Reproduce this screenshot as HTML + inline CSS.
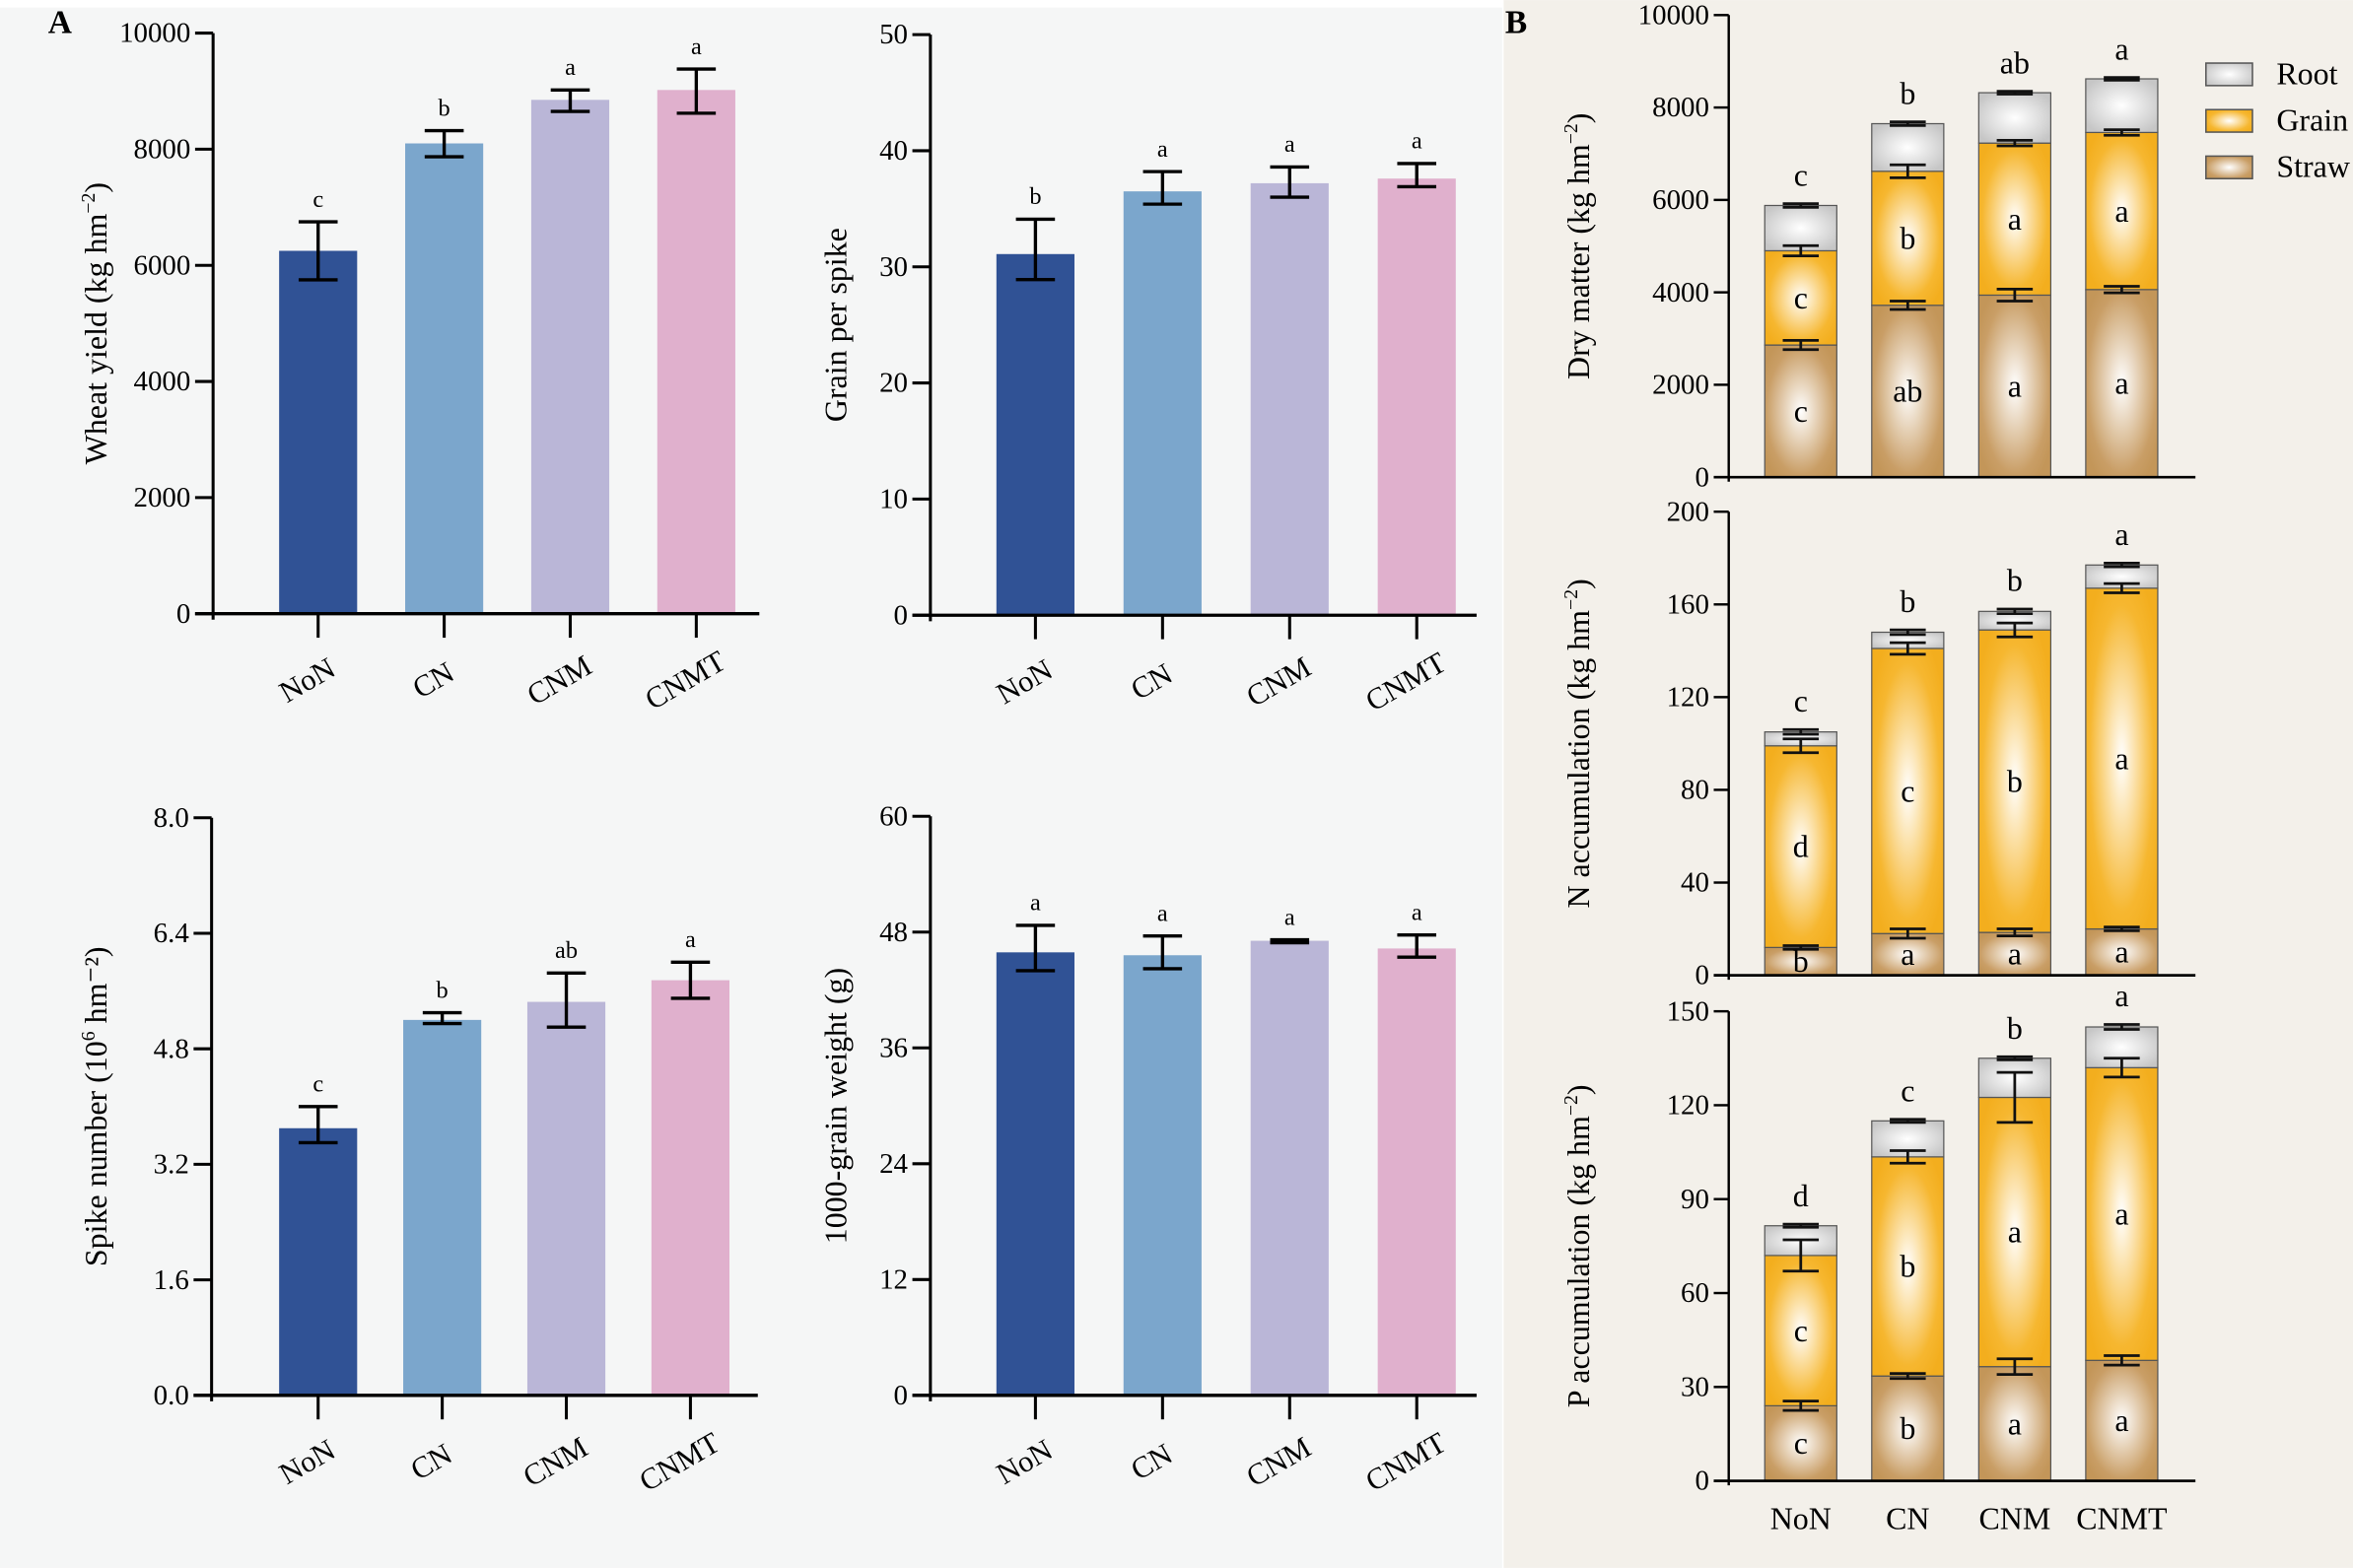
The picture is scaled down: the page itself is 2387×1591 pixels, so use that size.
<!DOCTYPE html>
<html><head><meta charset="utf-8"><style>
html,body{margin:0;padding:0;background:#fff;}
svg{display:block;font-family:"Liberation Serif",serif;}
</style></head><body>
<svg id="fig" width="2387" height="1591" viewBox="0 0 1568 1045" xmlns="http://www.w3.org/2000/svg">
<defs>
<radialGradient id="gRoot" cx="50%" cy="50%" r="60%"><stop offset="0" stop-color="#ffffff"/><stop offset="1" stop-color="#c6c6c6"/></radialGradient>
<radialGradient id="gGrain" cx="50%" cy="50%" r="60%"><stop offset="0" stop-color="#ffffff"/><stop offset="0.75" stop-color="#f6b730"/><stop offset="1" stop-color="#f3ae1e"/></radialGradient>
<radialGradient id="gStraw" cx="50%" cy="50%" r="60%"><stop offset="0" stop-color="#ffffff"/><stop offset="0.8" stop-color="#c99e66"/><stop offset="1" stop-color="#c39659"/></radialGradient>
</defs>
<rect x="0" y="5" width="1001" height="1040" fill="#f5f6f6"/>
<rect x="1002" y="0" width="566" height="1045" fill="#f3f0ea"/>
<text x="32" y="22" font-size="22" font-weight="bold">A</text>
<text x="1003" y="22" font-size="22" font-weight="bold">B</text>
<g id="root"></g>
</svg>
<script>
const categories = ["NoN","CN","CNM","CNMT"];
const barColors = ["#305295","#7ba6cc","#bab6d7","#e0b0cd"];
// Panel A data
const yieldVals = [6250,8100,8850,9020];
const yieldLo = [5750,7870,8650,8620];
const yieldHi = [6750,8320,9020,9380];
const yieldSig = ["c","b","a","a"];
const yieldTicks = [0,2000,4000,6000,8000,10000];
const grainVals = [31.1,36.5,37.2,37.6];
const grainLo = [28.9,35.4,36.0,36.9];
const grainHi = [34.1,38.2,38.6,38.9];
const grainSig = ["b","a","a","a"];
const grainTicks = [0,10,20,30,40,50];
const spikeVals = [3.7,5.2,5.45,5.75];
const spikeLo = [3.5,5.15,5.1,5.5];
const spikeHi = [4.0,5.3,5.85,6.0];
const spikeSig = ["c","b","ab","a"];
const spikeTicks = ["0.0","1.6","3.2","4.8","6.4","8.0"];
const tgwVals = [45.9,45.6,47.1,46.3];
const tgwLo = [44.0,44.2,46.9,45.4];
const tgwHi = [48.7,47.6,47.2,47.7];
const tgwSig = ["a","a","a","a"];
const tgwTicks = [0,12,24,36,48,60];
// Panel B data (straw, grain, root)
const dmStraw = [2860,3720,3940,4060];
const dmGrain = [2040,2900,3290,3400];
const dmRoot = [980,1030,1090,1160];
const dmStrawErr = [100,90,130,70];
const dmGrainErr = [110,140,60,60];
const dmRootErr = [40,40,30,30];
const dmSigStraw = ["c","ab","a","a"];
const dmSigGrain = ["c","b","a","a"];
const dmSigRoot = ["c","b","ab","a"];
const dmTicks = [0,2000,4000,6000,8000,10000];
const nStraw = [12,18,18.5,20];
const nGrain = [87,123,130.5,147];
const nRoot = [6,7,8,10];
const nStrawErr = [0.8,2,1.5,0.8];
const nGrainErr = [3,2.5,3,2];
const nRootErr = [1,1,1,0.8];
const nSigStraw = ["b","a","a","a"];
const nSigGrain = ["d","c","b","a"];
const nSigRoot = ["c","b","b","a"];
const nTicks = [0,40,80,120,160,200];
const pStraw = [24,33.5,36.5,38.5];
const pGrain = [48,70,86,93.5];
const pRoot = [9.5,11.5,12.5,13];
const pStrawErr = [1.5,0.8,2.5,1.5];
const pGrainErr = [5,2,8,3];
const pRootErr = [0.5,0.5,0.5,0.8];
const pSigStraw = ["c","b","a","a"];
const pSigGrain = ["c","b","a","a"];
const pSigRoot = ["d","c","b","a"];
const pTicks = [0,30,60,90,120,150];

const NS="http://www.w3.org/2000/svg";
const root=document.getElementById('root');
function mk(tag,attrs,parent,text){const e=document.createElementNS(NS,tag);for(const k in attrs)e.setAttribute(k,attrs[k]);if(text!==undefined)e.textContent=text;(parent||root).appendChild(e);return e;}

function ytitle(g,x,yc,main,sup,tail){
  const t=mk('text',{x:x,y:yc,'font-size':21,'text-anchor':'middle',transform:`rotate(-90 ${x} ${yc})`},g);
  
  
  mk('tspan',{},t,main);
  if(sup){mk('tspan',{dy:-8,'font-size':13},t,sup);mk('tspan',{dy:8},t,tail);}
}

function barChart(o){
  const g=mk('g',{});
  
  
  const ymax=Number(o.ticks[o.ticks.length-1]);
  const ys=v=>o.y0-(v/ymax)*(o.y0-o.y1);
  const ya=mk('line',{x1:o.ax,y1:o.y1,x2:o.ax,y2:o.y0+4,stroke:'#000','stroke-width':2},g);
  
  
  o.ticks.forEach(t=>{
    const y=ys(Number(t));
    mk('line',{x1:o.ax-12,y1:y,x2:o.ax,y2:y,stroke:'#000','stroke-width':2},g);
    const tl=mk('text',{x:o.ax-15,y:y+6,'font-size':19,'text-anchor':'end'},g,String(t));
    
    
  });
  categories.forEach((c,i)=>{
    const cx=o.cx0+i*o.step;
    const top=ys(o.vals[i]);
    const b=mk('rect',{x:cx-o.bw/2,y:top,width:o.bw,height:o.y0-top,fill:barColors[i]},g);
    
    
    const lo=ys(o.lo[i]),hi=ys(o.hi[i]);
    const eb=mk('path',{d:`M${cx},${hi}V${lo}M${cx-13},${hi}H${cx+13}M${cx-13},${lo}H${cx+13}`,stroke:'#000','stroke-width':2.2,fill:'none'},g);
    
    
    const s=mk('text',{x:cx,y:hi-10,'font-size':16,'text-anchor':'middle'},g,o.sig[i]);
    
    
    mk('line',{x1:cx,y1:o.y0,x2:cx,y2:o.y0+16,stroke:'#000','stroke-width':2},g);
    const lx=cx-4,ly=o.y0+50;
    const xl=mk('text',{x:lx,y:ly,'font-size':20,'text-anchor':'middle',transform:`rotate(-30 ${lx} ${ly})`},g,c);
    
    
  });
  const xa=mk('line',{x1:o.ax-12,y1:o.y0,x2:o.ax+364,y2:o.y0,stroke:'#000','stroke-width':2.2},g);
  
  
  ytitle(g,o.tx,(o.y0+o.y1)/2,o.title,o.sup,o.tail);
}

barChart({name:'wheat-yield-chart',ax:142,y0:409,y1:22,cx0:212,step:84,bw:52,ticks:yieldTicks,vals:yieldVals,lo:yieldLo,hi:yieldHi,sig:yieldSig,tx:71,title:'Wheat yield (kg hm',sup:'−2',tail:')'});
barChart({name:'grain-per-spike-chart',ax:620,y0:410,y1:23,cx0:690,step:84.7,bw:52,ticks:grainTicks,vals:grainVals,lo:grainLo,hi:grainHi,sig:grainSig,tx:564,title:'Grain per spike'});
barChart({name:'spike-number-chart',ax:141,y0:930,y1:545,cx0:212,step:82.7,bw:52,ticks:spikeTicks,vals:spikeVals,lo:spikeLo,hi:spikeHi,sig:spikeSig,tx:71,title:'Spike number (10',sup:'6',tail:' hm⁻²)'});
barChart({name:'thousand-grain-weight-chart',ax:620,y0:930,y1:544,cx0:690,step:84.7,bw:52,ticks:tgwTicks,vals:tgwVals,lo:tgwLo,hi:tgwHi,sig:tgwSig,tx:564,title:'1000-grain weight (g)'});

function stackChart(o){
  const g=mk('g',{});
  
  
  const ymax=o.ticks[o.ticks.length-1];
  const ys=v=>o.y0-(v/ymax)*(o.y0-o.y1);
  const ya=mk('line',{x1:o.ax,y1:o.y1,x2:o.ax,y2:o.y0+3,stroke:'#000','stroke-width':1.6},g);
  
  
  o.ticks.forEach(t=>{
    const y=ys(t);
    mk('line',{x1:o.ax-10,y1:y,x2:o.ax,y2:y,stroke:'#000','stroke-width':1.6},g);
    const tl=mk('text',{x:o.ax-13,y:y+6,'font-size':19,'text-anchor':'end'},g,String(t));
    
    
  });
  const segs=[[o.straw,o.strawErr,o.sigS,'url(#gStraw)','straw'],[o.grain,o.grainErr,o.sigG,'url(#gGrain)','grain'],[o.rootV,o.rootErr,o.sigR,'url(#gRoot)','root']];
  categories.forEach((c,i)=>{
    const cx=o.cx0+i*o.step;
    let base=0;
    const tops=[];
    segs.forEach(s=>{
      const v=s[0][i];
      const yt=ys(base+v),yb=ys(base);
      const r=mk('rect',{x:cx-o.bw/2,y:yt,width:o.bw,height:yb-yt,fill:s[3],stroke:'#555','stroke-width':0.8},g);
      
      
      tops.push([base+v,s[1][i],(yt+yb)/2,s[2][i],s[4]]);
      base+=v;
    });
    tops.forEach((t,k)=>{
      const hi=ys(t[0]+t[1]),lo=ys(t[0]-t[1]);
      const eb=mk('path',{d:`M${cx},${hi}V${lo}M${cx-12},${hi}H${cx+12}M${cx-12},${lo}H${cx+12}`,stroke:'#111','stroke-width':1.8,fill:'none'},g);
      
      
      let ly=t[2]+7;
      if(k===2) ly=hi-12;
      const s=mk('text',{x:cx,y:ly,'font-size':21,'text-anchor':'middle'},g,t[3]);
      
      
    });
    if(o.xlabels){
      const xl=mk('text',{x:cx,y:o.y0+32,'font-size':21,'text-anchor':'middle'},g,c);
      
      
    }
  });
  const xa=mk('line',{x1:o.ax-10,y1:o.y0,x2:1463,y2:o.y0,stroke:'#000','stroke-width':1.8},g);
  
  
  ytitle(g,1059,(o.y0+o.y1)/2,o.title,'−2',')');
}
stackChart({name:'dry-matter-chart',ax:1152,y0:318,y1:10,cx0:1200,step:71.3,bw:48,ticks:dmTicks,straw:dmStraw,grain:dmGrain,rootV:dmRoot,strawErr:dmStrawErr,grainErr:dmGrainErr,rootErr:dmRootErr,sigS:dmSigStraw,sigG:dmSigGrain,sigR:dmSigRoot,title:'Dry matter  (kg hm'});
stackChart({name:'n-accumulation-chart',ax:1152,y0:650,y1:341,cx0:1200,step:71.3,bw:48,ticks:nTicks,straw:nStraw,grain:nGrain,rootV:nRoot,strawErr:nStrawErr,grainErr:nGrainErr,rootErr:nRootErr,sigS:nSigStraw,sigG:nSigGrain,sigR:nSigRoot,title:'N accumulation  (kg hm'});
stackChart({name:'p-accumulation-chart',ax:1152,y0:987,y1:674,cx0:1200,step:71.3,bw:48,ticks:pTicks,straw:pStraw,grain:pGrain,rootV:pRoot,strawErr:pStrawErr,grainErr:pGrainErr,rootErr:pRootErr,sigS:pSigStraw,sigG:pSigGrain,sigR:pSigRoot,title:'P accumulation  (kg hm',xlabels:true});

const legendNames=["Root","Grain","Straw"];
const legendFills=["url(#gRoot)","url(#gGrain)","url(#gStraw)"];
const lg=mk('g',{});


legendNames.forEach((n,i)=>{
  const y=42+i*31;
  const e=mk('g',{},lg);
  
  
  mk('rect',{x:1470,y:y,width:31,height:15,fill:legendFills[i],stroke:'#555','stroke-width':1},e);
  mk('text',{x:1517,y:y+14,'font-size':21},e,n);
});
</script>
</body></html>
